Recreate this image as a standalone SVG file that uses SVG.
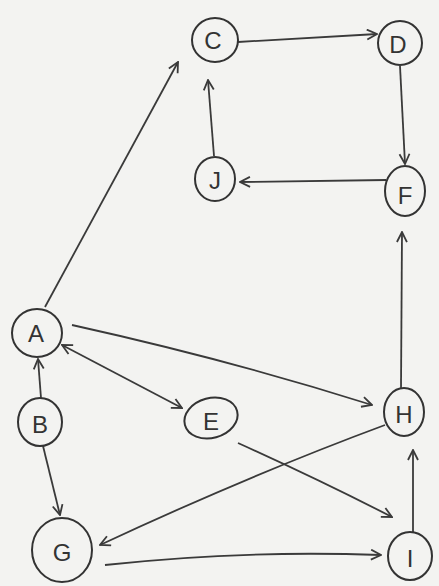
<svg xmlns="http://www.w3.org/2000/svg" width="439" height="586" viewBox="0 0 439 586">
<defs>
<marker id="arr" viewBox="0 0 12 12" refX="11" refY="6" markerWidth="12" markerHeight="12" markerUnits="userSpaceOnUse" orient="auto-start-reverse">
<path d="M1,1 L11,6 L1,11" fill="none" stroke="#3a3a3a" stroke-width="1.8"/>
</marker>
</defs>
<style>
.n ellipse{fill:none;stroke:#333;stroke-width:2}
.n text{font-family:"Liberation Sans",Arial,sans-serif;font-size:24px;fill:#333;text-anchor:middle;dominant-baseline:central}
.e line,.e path{stroke:#3a3a3a;stroke-width:1.8;fill:none;marker-end:url(#arr)}
</style>
<rect width="439" height="586" fill="#f3f3f1"/>
<g class="e" id="edges">
<line x1="45" y1="307" x2="178" y2="62"/>
<line x1="238" y1="42" x2="377" y2="34"/>
<line x1="400" y1="66" x2="405" y2="164"/>
<line x1="386" y1="180" x2="240" y2="182"/>
<line x1="214" y1="156" x2="208" y2="80"/>
<line x1="401" y1="388" x2="402" y2="232"/>
<path d="M72,325 Q230,360 372,405"/>
<line x1="62" y1="345" x2="182" y2="408" style="marker-start:url(#arr)"/>
<line x1="41" y1="398" x2="38" y2="359"/>
<line x1="43" y1="446" x2="60" y2="515"/>
<path d="M385,425 Q250,475 100,545"/>
<path d="M238,443 Q320,480 392,517"/>
<path d="M105,565 Q240,550 381,555"/>
<line x1="413" y1="532" x2="413" y2="450"/>
</g>
<g class="n" id="C"><ellipse cx="215" cy="40" rx="23" ry="22"/><text x="213" y="40">C</text></g>
<g class="n" id="D"><ellipse cx="400" cy="43" rx="22" ry="22"/><text x="398" y="44">D</text></g>
<g class="n" id="J"><ellipse cx="215" cy="179" rx="20" ry="22"/><text x="215" y="180">J</text></g>
<g class="n" id="F"><ellipse cx="405" cy="191" rx="20" ry="25"/><text x="405" y="195">F</text></g>
<g class="n" id="A"><ellipse cx="37" cy="333" rx="25" ry="24"/><text x="36" y="333">A</text></g>
<g class="n" id="B"><ellipse cx="40" cy="422" rx="22" ry="24"/><text x="40" y="424">B</text></g>
<g class="n" id="E"><ellipse cx="211" cy="418" rx="27" ry="20" transform="rotate(-15 211 418)"/><text x="211" y="421">E</text></g>
<g class="n" id="H"><ellipse cx="404" cy="412" rx="20" ry="24"/><text x="404" y="414">H</text></g>
<g class="n" id="G"><ellipse cx="62" cy="550" rx="30" ry="32"/><text x="62" y="552">G</text></g>
<g class="n" id="I"><ellipse cx="410" cy="556" rx="22" ry="24"/><text x="410" y="558">I</text></g>
</svg>
